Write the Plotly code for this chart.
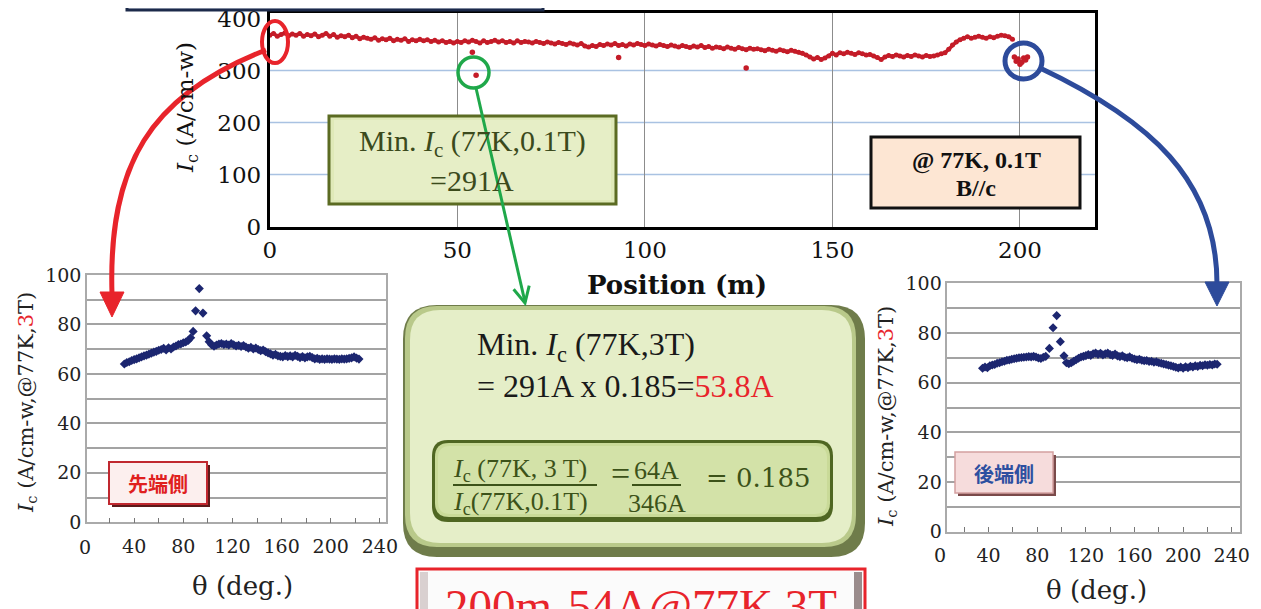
import plotly.graph_objects as go

W, H = 1261, 609
OFF = 8  # page body margin of the html page


def X(p):
    return (p - OFF) / W


def Y(p):
    return 1 - (p - OFF) / H


def P(x, y):
    return f"{X(x):.5f},{Y(y):.5f}"


# ---------------- data ----------------
# Top chart: Ic at 77 K, 0.1 T along the tape length
position_m = list(range(0, 199))
ic_01T = [
    368, 371, 366, 369, 372, 367, 370, 368, 371, 366,
    369, 367, 370, 365, 368, 371, 366, 369, 364, 367,
    365, 368, 363, 366, 361, 364, 362, 360, 363, 358,
    361, 359, 362, 357, 360, 358, 361, 356, 359, 357,
    360, 357, 359, 356, 358, 355, 357, 354, 356, 353,
    356, 354, 357, 355, 358, 356, 353, 357, 354, 356,
    358, 355, 357, 354, 356, 353, 357, 354, 356, 355,
    353, 356, 354, 352, 355, 353, 351, 354, 352, 350,
    353, 351, 349, 352, 347, 345, 348, 346, 350, 348,
    351, 349, 352, 348, 350, 347, 351, 349, 352, 350,
    348, 351, 349, 347, 350, 348, 346, 349, 347, 345,
    348, 346, 344, 347, 345, 348, 344, 346, 343, 345,
    344, 342, 345, 343, 341, 344, 342, 340, 343, 341,
    342, 340, 338, 341, 339, 337, 340, 338, 336, 339,
    337, 335, 333, 330, 326, 322, 325, 321, 324, 328,
    333, 330, 334, 332, 335, 333, 331, 334, 332, 330,
    331, 328, 325, 321, 326, 329, 327, 330, 328, 326,
    329, 327, 330, 328, 326, 329, 327, 328, 330, 332,
    334, 341, 349, 355, 359, 362, 365, 362, 364, 366,
    364, 362, 365, 363, 366, 368, 367, 365, 360,
]
outlier_position_m = [54, 55, 93, 127, 198.5, 199, 199.5, 200, 200.5, 201, 201.5, 202]
outlier_ic = [335, 291, 325, 305, 326, 318, 322, 312, 316, 324, 320, 326]

# Bottom-left: angular dependence at the front end (77 K, 3 T)
theta_front = [
    32, 34, 36, 38, 40, 42, 44, 46, 48, 50, 52, 54, 56, 58, 60, 62, 64, 66, 68, 70,
    72, 74, 76, 78, 80, 82, 84, 86, 88, 90, 93, 96, 99,
    101, 103, 105, 107, 109, 111, 113, 115, 117, 119, 121, 123, 125, 127, 129, 131,
    133, 135, 137, 139, 141, 143, 145, 147, 149, 151, 153, 155, 157, 159, 161, 163,
    165, 167, 169, 171, 173, 175, 177, 179, 181, 183, 185, 187, 189, 191, 193, 195,
    197, 199, 201, 203, 205, 207, 209, 211, 213, 215, 217, 219, 221, 223,
]
ic3T_front = [
    64.0, 64.6, 64.9, 65.4, 65.8, 66.1, 66.5, 66.9, 67.3, 67.6, 68.0, 68.4, 68.8, 69.1, 69.6, 69.9, 70.4, 69.7, 70.6, 70.1,
    70.9, 71.3, 71.9, 72.1, 72.6, 72.9, 73.5, 74.6, 77.2, 85.5, 94.5, 84.6, 75.4,
    73.0, 71.8, 71.2, 71.7, 72.1, 72.3, 71.9, 72.1, 71.7, 72.3, 71.8, 71.3, 71.6, 71.1, 71.5, 70.9,
    70.4, 70.8, 70.1, 70.5, 69.9, 69.4, 69.7, 69.0, 68.5, 68.1, 67.6, 67.9, 67.3, 67.1, 66.9, 67.4,
    67.0, 67.3, 66.9, 67.5, 67.1, 66.6, 67.0, 66.5, 66.9, 67.1, 66.6, 66.1, 66.3, 65.9, 66.1, 65.9,
    66.1, 66.0, 65.9, 66.1, 66.0, 65.9, 66.1, 66.0, 66.1, 66.3, 66.5, 66.9, 66.4, 66.0,
]

# Bottom-right: angular dependence at the rear end (77 K, 3 T)
theta_rear = [
    35, 37, 39, 41, 43, 45, 47, 49, 51, 53, 55, 57, 59, 61, 63, 65, 67, 69, 71, 73,
    75, 77, 79, 81, 83, 85, 87, 90, 93, 96, 99,
    102, 104, 106, 108, 110, 112, 114, 116, 118, 120, 122, 124, 126, 128, 130, 132,
    134, 136, 138, 140, 142, 144, 146, 148, 150, 152, 154, 156, 158, 160, 162, 164,
    166, 168, 170, 172, 174, 176, 178, 180, 182, 184, 186, 188, 190, 192, 194, 196,
    198, 200, 202, 204, 206, 208, 210, 212, 214, 216, 218, 220, 222, 224, 226, 228,
]
ic3T_rear = [
    65.8, 66.3, 66.0, 66.8, 67.1, 67.3, 67.8, 68.0, 68.4, 68.6, 69.0, 69.1, 69.4, 69.6, 69.8, 70.0, 70.1, 70.2, 70.3, 70.5,
    70.4, 70.6, 70.3, 69.9, 69.7, 70.2, 70.6, 73.8, 82.1, 87.0, 76.5,
    70.8, 68.0, 67.6, 68.0, 68.6, 69.2, 69.8, 70.3, 70.6, 70.9, 71.3, 71.0, 71.6, 71.9, 71.4, 71.8,
    71.2, 71.6, 71.9, 71.3, 71.0, 71.5, 70.8, 70.5, 70.8, 70.2, 70.0, 70.4, 69.8, 69.5, 69.2, 69.4,
    69.0, 68.8, 68.9, 68.5, 68.6, 68.2, 68.4, 68.0, 67.8, 67.5, 67.3, 67.0, 66.8, 66.5, 66.2, 65.9,
    66.3, 65.8, 66.4, 66.0, 66.6, 66.3, 66.8, 66.5, 67.0, 66.8, 67.2, 67.0, 67.3, 67.1, 67.5, 67.4,
]

assert len(position_m) == len(ic_01T)
assert len(theta_front) == len(ic3T_front)
assert len(theta_rear) == len(ic3T_rear)

top_xticks = [0, 50, 100, 150, 200]
top_yticks = [0, 100, 200, 300, 400]
top_ygrid = [100, 200, 300]
ang_xticks = [20, 40, 60, 80, 100, 120, 140, 160, 180, 200, 220, 240]
ang_xtext = ["", "40", "", "80", "", "120", "", "160", "", "200", "", "240"]
ang_yticks = [0, 20, 40, 60, 80, 100]

RED = "#e8242b"
BLUE = "#2d4b9b"
GREEN = "#1fa84a"
SERIF = "DejaVu Serif"
TIMES = "Liberation Serif"

fig = go.Figure()
fig.add_trace(go.Scatter(x=position_m, y=ic_01T, mode="lines+markers",
                         line=dict(color="#c41c28", width=3.5),
                         marker=dict(color="#c41c28", size=5),
                         xaxis="x", yaxis="y", hoverinfo="skip"))
fig.add_trace(go.Scatter(x=outlier_position_m, y=outlier_ic, mode="markers",
                         marker=dict(color="#c41c28", size=5.5),
                         xaxis="x", yaxis="y", hoverinfo="skip"))
fig.add_trace(go.Scatter(x=theta_front, y=ic3T_front, mode="markers",
                         marker=dict(symbol="diamond", size=7, color="#1c2670"),
                         xaxis="x2", yaxis="y2", hoverinfo="skip"))
fig.add_trace(go.Scatter(x=theta_rear, y=ic3T_rear, mode="markers",
                         marker=dict(symbol="diamond", size=7, color="#1c2670"),
                         xaxis="x3", yaxis="y3", hoverinfo="skip"))

tick_top = dict(family=SERIF, size=23, color="#111")
tick_bot = dict(family=SERIF, size=19, color="#222")

ang_x_common = dict(tickvals=ang_xticks, ticktext=ang_xtext, ticks="inside", ticklen=5,
                    tickcolor="#777", showgrid=False, showline=True, linecolor="#aaaaaa",
                    linewidth=1.5, mirror=True, zeroline=False, tickfont=tick_bot,
                    ticklabelstandoff=6, automargin=False, ticklabeloverflow="allow")
ang_y_common = dict(range=[0, 100], tickvals=ang_yticks, showgrid=True, gridcolor="#a3a3a3",
                    gridwidth=1.5, minor=dict(dtick=10, showgrid=True, gridcolor="#a3a3a3",
                                              gridwidth=1.5),
                    showline=True, linecolor="#aaaaaa", linewidth=1.5, mirror=True,
                    zeroline=False, ticks="", tickfont=tick_bot, ticklabelstandoff=0,
                    automargin=False, ticklabeloverflow="allow")

fig.update_layout(
    width=W, height=H, autosize=False,
    margin=dict(l=0, r=0, t=0, b=0, pad=0, autoexpand=False),
    paper_bgcolor="white", plot_bgcolor="white", showlegend=False,
    xaxis=dict(domain=[X(269.8), X(1095)], range=[0, 220], tickvals=top_xticks,
               showgrid=True, gridcolor="#8c8c8c", gridwidth=1, showline=True,
               linecolor="black", linewidth=3, mirror=True, ticks="", zeroline=False,
               tickfont=tick_top, ticklabelstandoff=1, anchor="y", automargin=False,
               ticklabeloverflow="allow"),
    yaxis=dict(domain=[Y(226.5), Y(13.3)], range=[0, 410], tickvals=top_yticks,
               showgrid=False, showline=True, linecolor="black", linewidth=3, mirror=True,
               ticks="", zeroline=False, tickfont=tick_top, ticklabelstandoff=1, anchor="x",
               automargin=False, ticklabeloverflow="allow"),
    xaxis2=dict(domain=[X(87), X(386)], range=[1.6, 245], anchor="y2", **ang_x_common),
    yaxis2=dict(domain=[Y(522.3), Y(275)], anchor="x2", **ang_y_common),
    xaxis3=dict(domain=[X(947.3), X(1240)], range=[6, 246.8], anchor="y3", **ang_x_common),
    yaxis3=dict(domain=[Y(531.7), Y(283.3)], anchor="x3", **ang_y_common),
)

shapes = []


def rect(x0, y0, x1, y1, **kw):
    d = dict(type="rect", xref="paper", yref="paper", x0=X(x0), x1=X(x1), y0=Y(y1), y1=Y(y0))
    d.update(kw)
    return d


def rrect_path(x0, y0, x1, y1, r):
    return (f"M {P(x0 + r, y0)} L {P(x1 - r, y0)} Q {P(x1, y0)} {P(x1, y0 + r)} "
            f"L {P(x1, y1 - r)} Q {P(x1, y1)} {P(x1 - r, y1)} L {P(x0 + r, y1)} "
            f"Q {P(x0, y1)} {P(x0, y1 - r)} L {P(x0, y0 + r)} Q {P(x0, y0)} {P(x0 + r, y0)} Z")


def rrect(x0, y0, x1, y1, r, **kw):
    d = dict(type="path", xref="paper", yref="paper", path=rrect_path(x0, y0, x1, y1, r))
    d.update(kw)
    return d


# light blue horizontal gridlines of the top chart
for g in top_ygrid:
    shapes.append(dict(type="line", xref="x", yref="y", x0=0, x1=220, y0=g, y1=g,
                       line=dict(color="#a9c2e2", width=1.5), layer="below"))

# partial title box at top-left (only its lower edge is in view)
shapes.append(rect(127, -30, 543, 10, fillcolor="#dde3ee", line=dict(color="#1c2a4a", width=3)))

# Min Ic (77K,0.1T) box
shapes.append(rect(329, 116, 616, 204, fillcolor="#dfe9b8", line=dict(color="#5b6b22", width=3)))
shapes.append(rect(334, 120, 611, 200, fillcolor="#e6eec6", line=dict(width=0)))

# @77K box
shapes.append(rect(871, 137, 1080, 208, fillcolor="#fde6d3", line=dict(color="#111111", width=3)))

# big centre box
shapes.append(rrect(403, 305, 865, 557, 34, fillcolor="#6f7c4a", line=dict(width=0)))
shapes.append(rrect(405, 306, 856, 547, 32, fillcolor="#b9c98a", line=dict(width=0)))
shapes.append(rrect(410, 310, 852, 543, 30, fillcolor="#e5eec8", line=dict(width=0)))

# inner ratio box
shapes.append(rrect(432, 440, 833, 522, 16, fillcolor="#4f6622", line=dict(width=0)))
shapes.append(rrect(435, 443, 830, 517, 14, fillcolor="#c9da98", line=dict(width=0)))
shapes.append(rrect(438, 446, 827, 514, 12, fillcolor="#d3e2a8", line=dict(width=0)))
# fraction bars
shapes.append(dict(type="line", xref="paper", yref="paper", x0=X(453), x1=X(597),
                   y0=Y(485), y1=Y(485), line=dict(color="#3c5219", width=2)))
shapes.append(dict(type="line", xref="paper", yref="paper", x0=X(632), x1=X(681),
                   y0=Y(485), y1=Y(485), line=dict(color="#3c5219", width=2)))

# bottom red summary box
shapes.append(rect(417, 569, 865, 640, fillcolor="#fbfbfb", line=dict(color="#e8242b", width=3)))
shapes.append(rect(420, 572, 428, 640, fillcolor="#d9d0d0", line=dict(width=0)))
shapes.append(rect(854, 572, 862, 640, fillcolor="#9a8c8c", line=dict(width=0)))

# 先端側 / 後端側 labels
shapes.append(rect(112, 465, 210, 507, fillcolor="#5b1a1a", line=dict(width=0)))
shapes.append(rect(109, 462, 207, 504, fillcolor="#fcefee", line=dict(color="#c0282f", width=2)))
shapes.append(rect(958, 455, 1056, 496, fillcolor="#7a4a4a", line=dict(width=0)))
shapes.append(rect(955, 452, 1053, 493, fillcolor="#f6dcdc", line=dict(color="#d4a0a0", width=1.5)))

# highlight rings
shapes.append(dict(type="circle", xref="paper", yref="paper", x0=X(262), x1=X(288),
                   y0=Y(63), y1=Y(21), line=dict(color=RED, width=4)))
shapes.append(dict(type="circle", xref="paper", yref="paper", x0=X(458), x1=X(489),
                   y0=Y(88), y1=Y(57), line=dict(color=GREEN, width=3.5)))
shapes.append(dict(type="circle", xref="paper", yref="paper", x0=X(1005), x1=X(1042),
                   y0=Y(79), y1=Y(43), line=dict(color=BLUE, width=5)))

# curved arrows
shapes.append(dict(type="path", xref="paper", yref="paper",
                   path=f"M {P(266, 50)} C {P(150, 95)} {P(108, 165)} {P(112, 294)}",
                   line=dict(color=RED, width=5)))
shapes.append(dict(type="path", xref="paper", yref="paper",
                   path=f"M {P(100, 292)} L {P(124, 292)} L {P(112, 317)} Z",
                   fillcolor=RED, line=dict(color=RED, width=1)))
shapes.append(dict(type="path", xref="paper", yref="paper",
                   path=f"M {P(1040, 68)} C {P(1150, 120)} {P(1217, 180)} {P(1217, 284)}",
                   line=dict(color=BLUE, width=5)))
shapes.append(dict(type="path", xref="paper", yref="paper",
                   path=f"M {P(1205, 282)} L {P(1229, 282)} L {P(1217, 306)} Z",
                   fillcolor=BLUE, line=dict(color=BLUE, width=1)))
shapes.append(dict(type="path", xref="paper", yref="paper",
                   path=f"M {P(476, 88)} L {P(525, 302)}",
                   line=dict(color=GREEN, width=3)))
shapes.append(dict(type="path", xref="paper", yref="paper",
                   path=f"M {P(513.6, 289.2)} L {P(525, 303)} L {P(529.2, 285.6)}",
                   line=dict(color=GREEN, width=3)))

fig.update_layout(shapes=shapes)

ann = []


def text(x, y, s, size, color="#111", family=SERIF, xanchor="center", yanchor="middle", angle=0):
    ann.append(dict(xref="paper", yref="paper", x=X(x), y=Y(y), text=s, showarrow=False,
                    xanchor=xanchor, yanchor=yanchor, textangle=angle,
                    font=dict(family=family, size=size, color=color)))


IC = "<i>I</i><sub>c</sub>"

# axis titles
text(187, 108, f"{IC} (A/cm-w)", 23, angle=-90)
text(677, 285, "<b>Position (m)</b>", 26)
text(27, 403, f"{IC} (A/cm-w,@77K,<span style='color:{RED}'>3</span>T)", 21, color="#222", angle=-90)
text(887, 417, f"{IC} (A/cm-w,@77K,<span style='color:{RED}'>3</span>T)", 21, color="#222", angle=-90)
text(242, 586, "θ (deg.)", 26, color="#222")
text(1096, 590, "θ (deg.)", 26, color="#222")
# "0" tick labels of the angular charts (left of the plotted range)
text(85, 547, "0", 19, color="#222")
text(940, 555, "0", 19, color="#222")

# boxes text
text(472, 143, f"Min. {IC} (77K,0.1T)", 30, color="#3b4a1c", family=TIMES)
text(472, 180, "=291A", 30, color="#3b4a1c", family=TIMES)
text(976, 160, "<b>@ 77K, 0.1T</b>", 24, family=TIMES)
text(976, 188, "<b>B//c</b>", 24, family=TIMES)
text(475, 346, f"Min. {IC} (77K,3T)", 32, color="#1a1a1a", family=TIMES, xanchor="left")
text(475, 386, f"= 291A x 0.185=<span style='color:{RED}'>53.8A</span>", 32, color="#1a1a1a",
     family=TIMES, xanchor="left")
text(451, 470, f"{IC} (77K, 3 T)", 26, color="#3c5219", family=TIMES, xanchor="left")
text(451, 503, f"{IC}(77K,0.1T)", 26, color="#3c5219", family=TIMES, xanchor="left")
text(609, 473, "=", 34, color="#3c5219", family=TIMES, xanchor="left")
text(632, 470, "64A", 26, color="#3c5219", family=TIMES, xanchor="left")
text(626, 503, "346A", 26, color="#3c5219", family=TIMES, xanchor="left")
text(704, 478, "= 0.185", 26, color="#3c5219", family=SERIF, xanchor="left")
text(158, 483, "<b>先端側</b>", 20, color="#e0201e", family="Noto Sans CJK JP")
text(1004, 473, "<b>後端側</b>", 20, color="#2d4fa0", family="Noto Sans CJK JP")
text(641, 606, "200m-54A@77K,3T", 47, color=RED, family=TIMES)

fig.update_layout(annotations=ann)

fig.write_html("out.html")
